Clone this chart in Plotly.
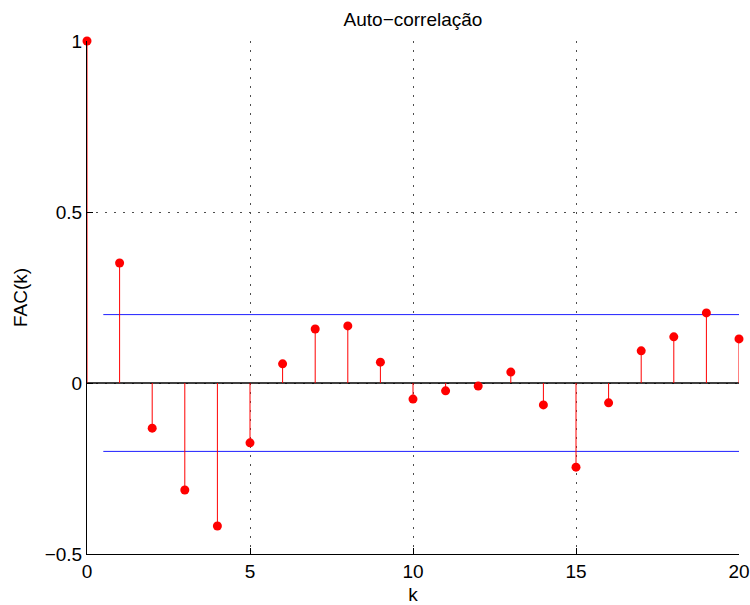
import plotly.graph_objects as go

# Sample autocorrelation function (FAC) by lag
lags = list(range(21))
fac = [1.0, 0.351, -0.132, -0.313, -0.418, -0.175, 0.056, 0.158, 0.167, 0.061,
       -0.047, -0.023, -0.009, 0.032, -0.064, -0.246, -0.058, 0.094, 0.135, 0.205, 0.129]
conf_band = 0.2          # +/- confidence limit
band_x = [0.5, 20]

x_ticks = [0, 5, 10, 15, 20]
y_ticks = [-0.5, 0, 0.5, 1]
y_ticktext = ["\u22120.5", "0", "0.5", "1"]

# stem segments from the baseline to each value
stem_x, stem_y = [], []
for k, v in zip(lags, fac):
    stem_x += [k, k, None]
    stem_y += [0, v, None]

fig = go.Figure()

# zero baseline
fig.add_trace(go.Scatter(x=[0, 20], y=[0, 0], mode="lines",
                         line=dict(color="black", width=1.5), hoverinfo="skip"))
# confidence band limits
for s in (1, -1):
    fig.add_trace(go.Scatter(x=band_x, y=[s * conf_band] * 2, mode="lines",
                             line=dict(color="#1f1fff", width=1), hoverinfo="skip"))
# stems
fig.add_trace(go.Scatter(x=stem_x, y=stem_y, mode="lines",
                         line=dict(color="#ff0000", width=1)))
# markers
fig.add_trace(go.Scatter(x=lags, y=fac, mode="markers",
                         marker=dict(color="#ff0000", size=9, line=dict(width=0)),
                         cliponaxis=False))

font = "Liberation Sans, Arial, Helvetica, sans-serif"
grid = dict(showgrid=True, gridcolor="#4d4d4d", griddash="1.5px,7.5px", gridwidth=1.2)
fig.update_layout(
    width=750, height=605,
    margin=dict(l=87, r=11, t=41, b=51),
    paper_bgcolor="white", plot_bgcolor="white",
    showlegend=False,
    font=dict(family=font, color="black", size=19),
    title=dict(text="Auto\u2212correlação", xref="paper", x=0.5, xanchor="center",
               y=1 - 19 / 605, yanchor="middle", font=dict(size=19)),
)
fig.update_xaxes(
    range=[0, 20], tickvals=x_ticks, ticks="inside", ticklen=6,
    tickcolor="black", showline=True, linecolor="black", linewidth=1,
    zeroline=False, mirror=False, automargin=False, **grid,
    title=dict(text="k", font=dict(size=19), standoff=9),
)
fig.update_yaxes(
    range=[-0.5, 1], tickvals=y_ticks, ticktext=y_ticktext,
    ticks="inside", ticklen=6,
    tickcolor="black", showline=True, linecolor="black", linewidth=1,
    zeroline=False, mirror=False, automargin=False, **grid,
    title=dict(text="FAC(k)", font=dict(size=19), standoff=12),
)

fig.write_html("out.html")
